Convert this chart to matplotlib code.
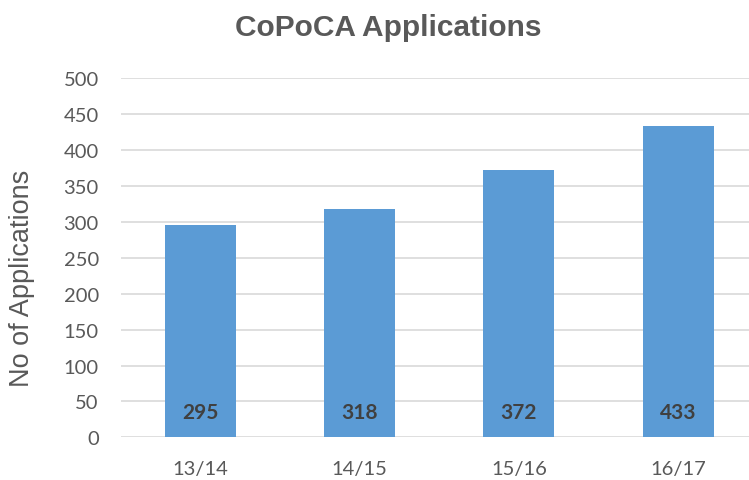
import matplotlib
matplotlib.use("Agg")
import matplotlib.pyplot as plt

years = ["13/14", "14/15", "15/16", "16/17"]
apps = [295, 318, 372, 433]
yticks = [0, 50, 100, 150, 200, 250, 300, 350, 400, 450, 500]

fig = plt.figure(figsize=(7.49, 4.81), dpi=100)
ax = fig.add_axes([121/749, 1 - 438.3/481, 1 - 121/749, (438.3 - 79.3)/481])

x = list(range(len(years)))
ax.bar(x, apps, width=0.446, color="#5B9BD5", zorder=3)
for xi, v in zip(x, apps):
    ax.text(xi, 35, str(v), ha="center", va="center", fontsize=15,
            fontweight="bold", color="#404040", family="Lato", zorder=4)

ax.set_xlim(-0.499, 3.445)
ax.set_ylim(0, 500)
ax.set_yticks(yticks)
ax.set_xticks(x)
ax.set_xticklabels(years)
ax.grid(axis="y", color="#d9d9d9", linewidth=1.2, zorder=0)
for s in ax.spines.values():
    s.set_visible(False)
ax.tick_params(length=0, labelsize=14.5, labelcolor="#595959")
ax.tick_params(axis="y", pad=16)
ax.tick_params(axis="x", pad=16)
for lab in ax.get_xticklabels() + ax.get_yticklabels():
    lab.set_family("Lato")

fig.text(22/749, 1 - 278/481, "No of Applications", rotation=90, ha="center",
         va="center", fontsize=19.5, color="#595959", family="Liberation Sans")
fig.text(388/749, 1 - 28/481, "CoPoCA Applications", ha="center", va="center",
         fontsize=21.5, fontweight="bold", color="#595959", family="Liberation Sans")

fig.savefig("out.png", dpi=100)
